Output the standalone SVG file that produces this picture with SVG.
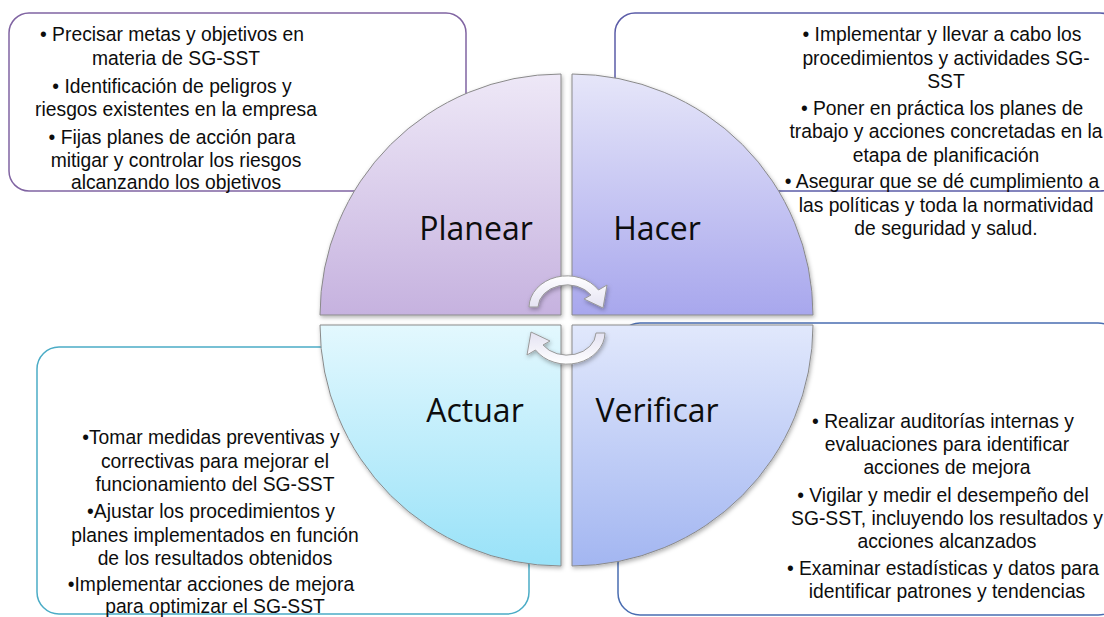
<svg xmlns="http://www.w3.org/2000/svg" width="1104" height="617" viewBox="0 0 1104 617">
<style>
.t{font-family:"Liberation Sans",Arial,sans-serif;font-size:19.3px;fill:#0d0d0d;text-anchor:middle}
.big{font-family:"Open Sans","Noto Sans",sans-serif;font-size:32px}
.box{fill:#fff;stroke-width:1.5}
.q{stroke:#8a8a8a;stroke-width:1}
.arr{fill:url(#gArr);stroke:#999;stroke-width:1}
</style>
<defs>
<linearGradient id="gP" x1="0" y1="0" x2="0" y2="1"><stop offset="0" stop-color="#eee8f7"/><stop offset="1" stop-color="#c6b2df"/></linearGradient>
<linearGradient id="gH" x1="0" y1="0" x2="0" y2="1"><stop offset="0" stop-color="#e6e6f9"/><stop offset="1" stop-color="#a8a7ed"/></linearGradient>
<linearGradient id="gA" x1="0" y1="0" x2="0" y2="1"><stop offset="0" stop-color="#e3f8fe"/><stop offset="1" stop-color="#99e2f8"/></linearGradient>
<linearGradient id="gV" x1="0" y1="0" x2="0" y2="1"><stop offset="0" stop-color="#e1e8fc"/><stop offset="1" stop-color="#a3b6f1"/></linearGradient>
<linearGradient id="gArr" x1="0" y1="0" x2="0" y2="1"><stop offset="0" stop-color="#ffffff"/><stop offset="1" stop-color="#e4e2f2"/></linearGradient>
<filter id="sh" x="-10%" y="-10%" width="120%" height="120%"><feDropShadow dx="1" dy="2" stdDeviation="2" flood-color="#000" flood-opacity="0.3"/></filter>
<path id="arrow" d="M529,307 A38,32 0 0 1 598.5,290 L607,285 L603,308 L584,299 L591,295 A29,23 0 0 0 538,307 Z"/>
</defs>

<g id="box-planear">
<rect class="box" x="9" y="13" width="457" height="178" rx="20" stroke="#8064a2"/>
</g>
<g id="box-hacer">
<rect class="box" x="615" y="13" width="505" height="178" rx="20" stroke="#5b5ca8"/>
</g>
<g id="box-actuar">
<rect class="box" x="37" y="347" width="492" height="267" rx="22" stroke="#4bacc6"/>
</g>
<g id="box-verificar">
<rect class="box" x="618" y="323" width="502" height="292" rx="22" stroke="#4a6db1"/>
</g>

<g id="cycle" filter="url(#sh)">
<path id="q-planear" class="q" fill="url(#gP)" d="M561,315 H320 A241,241 0 0 1 561,74 Z"/>
<path id="q-hacer" class="q" fill="url(#gH)" d="M572,315 V74 A241,241 0 0 1 813,315 Z"/>
<path id="q-actuar" class="q" fill="url(#gA)" d="M561,325 V566 A241,241 0 0 1 320,325 Z"/>
<path id="q-verificar" class="q" fill="url(#gV)" d="M572,325 H813 A241,241 0 0 1 572,566 Z"/>
</g>

<g id="connectors" filter="url(#sh)">
<use href="#arrow" class="arr"/>
<use href="#arrow" class="arr" transform="rotate(180 567 320)"/>
</g>

<g id="labels">
<text class="t big" x="476" y="240">Planear</text>
<text class="t big" x="657" y="240">Hacer</text>
<text class="t big" x="475" y="422">Actuar</text>
<text class="t big" x="657" y="422">Verificar</text>
</g>

<g id="text-planear">
<text class="t" x="172" y="41">• Precisar metas y objetivos en</text>
<text class="t" x="176" y="65">materia de SG-SST</text>
<text class="t" x="172" y="93">• Identificación de peligros y</text>
<text class="t" x="176" y="116">riesgos existentes en la empresa</text>
<text class="t" x="172" y="144">• Fijas planes de acción para</text>
<text class="t" x="176" y="167">mitigar y controlar los riesgos</text>
<text class="t" x="176" y="189">alcanzando los objetivos</text>
</g>

<g id="text-hacer">
<text class="t" x="942" y="41">• Implementar y llevar a cabo los</text>
<text class="t" x="946" y="65">procedimientos y actividades SG-</text>
<text class="t" x="946" y="88">SST</text>
<text class="t" x="942" y="115">• Poner en práctica los planes de</text>
<text class="t" x="946" y="138">trabajo y acciones concretadas en la</text>
<text class="t" x="946" y="162">etapa de planificación</text>
<text class="t" x="942" y="188">• Asegurar que se dé cumplimiento a</text>
<text class="t" x="946" y="212">las políticas y toda la normatividad</text>
<text class="t" x="946" y="235">de seguridad y salud.</text>
</g>

<g id="text-actuar">
<text class="t" x="211" y="444">•Tomar medidas preventivas y</text>
<text class="t" x="215" y="468">correctivas para mejorar el</text>
<text class="t" x="215" y="491">funcionamiento del SG-SST</text>
<text class="t" x="211" y="518">•Ajustar los procedimientos y</text>
<text class="t" x="215" y="542">planes implementados en función</text>
<text class="t" x="215" y="565">de los resultados obtenidos</text>
<text class="t" x="211" y="591">•Implementar acciones de mejora</text>
<text class="t" x="215" y="612.5">para optimizar el SG-SST</text>
</g>

<g id="text-verificar">
<text class="t" x="943" y="428">• Realizar auditorías internas y</text>
<text class="t" x="947" y="451">evaluaciones para identificar</text>
<text class="t" x="947" y="474">acciones de mejora</text>
<text class="t" x="943" y="502">• Vigilar y medir el desempeño del</text>
<text class="t" x="947" y="525">SG-SST, incluyendo los resultados y</text>
<text class="t" x="947" y="548">acciones alcanzados</text>
<text class="t" x="943" y="575">• Examinar estadísticas y datos para</text>
<text class="t" x="947" y="598">identificar patrones y tendencias</text>
</g>
</svg>
